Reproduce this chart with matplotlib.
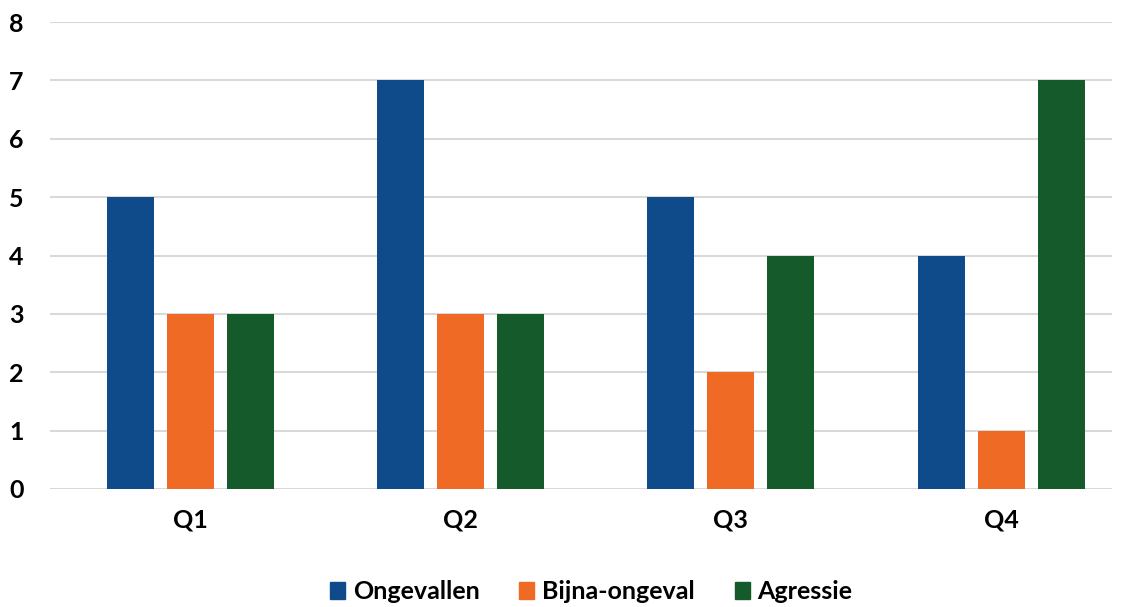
import matplotlib.pyplot as plt
import matplotlib.patches as mpatches
import numpy as np

# data
quarters = ['Q1', 'Q2', 'Q3', 'Q4']
ongevallen = [5, 7, 5, 4]
bijna_ongeval = [3, 3, 2, 1]
agressie = [3, 3, 4, 7]

series_names = ['Ongevallen', 'Bijna-ongeval', 'Agressie']
colors = ['#0f4a8a', '#ee6a25', '#155a2b']

plt.rcParams['font.family'] = ['Lato', 'DejaVu Sans']

fig = plt.figure(figsize=(11.26, 6.07), dpi=100)
ax = fig.add_axes([50/1126, 1 - 489/607, (1112 - 50)/1126, (489 - 22)/607])

x = np.arange(len(quarters))
width = 0.174
step = 0.222
for i, (vals, col) in enumerate(zip([ongevallen, bijna_ongeval, agressie], colors)):
    ax.bar(x + (i - 1) * step, vals, width, color=col, zorder=3)

ax.set_xlim(-0.518, 3.41)
ax.set_ylim(0, 8)
ax.set_yticks(range(0, 9))
ax.grid(axis='y', color='#d9d9d9', linewidth=1.5, zorder=0)
for s in ax.spines.values():
    s.set_visible(False)
ax.tick_params(axis='both', length=0, labelsize=18)
ax.tick_params(axis='y', pad=19)
ax.tick_params(axis='x', pad=14)
ax.set_xticks(x)
ax.set_xticklabels(quarters, fontweight='bold')
for lab in ax.get_yticklabels():
    lab.set_fontweight('bold')

handles = [mpatches.Patch(color=c) for c in colors]
fig.legend(handles, series_names, loc='center', bbox_to_anchor=(0.525, 0.025),
           ncol=3, frameon=False, handlelength=0.6, handleheight=0.7,
           handletextpad=0.3, columnspacing=1.6, prop={'weight': 'bold', 'size': 18})

fig.savefig('out.png', dpi=100)
